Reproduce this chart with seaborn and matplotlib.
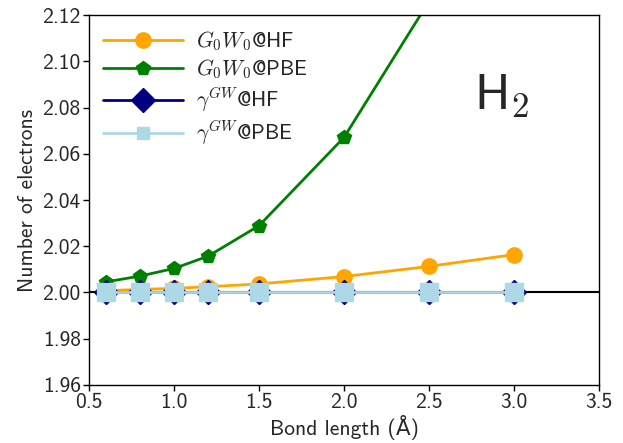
import numpy as np
import pandas as pd
import seaborn as sns
import matplotlib.pyplot as plt

# bond lengths (Angstrom)
bond = [0.6, 0.8, 1.0, 1.2, 1.5, 2.0, 2.5, 3.0]

# number of electrons
g0w0_hf = [2.0008, 2.0013, 2.0018, 2.0025, 2.0037, 2.0069, 2.0113, 2.0164]
g0w0_pbe = [2.0046, 2.0071, 2.0104, 2.0157, 2.0289, 2.0671, 2.1260]
gamma_hf = [2.0, 2.0, 2.0, 2.0, 2.0, 2.0, 2.0, 2.0]
gamma_pbe = [2.0, 2.0, 2.0, 2.0, 2.0, 2.0, 2.0, 2.0]

labels = [r'$G_0W_0$@HF', r'$G_0W_0$@PBE', r'$\gamma^{GW}$@HF', r'$\gamma^{GW}$@PBE']
colors = ['orange', 'green', 'navy', 'lightblue']
markers = ['o', 'p', 'D', 's']
msizes = [11, 10, 12, 13]

x_ticks = [0.5, 1.0, 1.5, 2.0, 2.5, 3.0, 3.5]
y_ticks = [1.96, 1.98, 2.00, 2.02, 2.04, 2.06, 2.08, 2.10, 2.12]

sns.set_style("ticks")
plt.rcParams['font.family'] = ['cmss10', 'DejaVu Sans']
plt.rcParams['mathtext.fontset'] = 'cm'
plt.rcParams['axes.unicode_minus'] = False
plt.rcParams['axes.edgecolor'] = 'black'

fig, ax = plt.subplots(figsize=(6.23, 4.43), dpi=100)
fig.subplots_adjust(left=0.143, right=0.9615, bottom=0.131, top=0.966)

ax.axhline(2.0, color='black', lw=1.5, zorder=1)

series = [g0w0_hf, g0w0_pbe, gamma_hf, gamma_pbe]
for vals, lab, c, m, ms in zip(series, labels, colors, markers, msizes):
    df = pd.DataFrame({'bond': bond[:len(vals)], 'n': vals})
    sns.lineplot(data=df, x='bond', y='n', ax=ax, label=lab, color=c,
                 marker=m, markersize=ms, markeredgecolor=c,
                 markeredgewidth=1, lw=2, zorder=2)

ax.set_xlim(0.5, 3.5)
ax.set_ylim(1.96, 2.12)
ax.set_xticks(x_ticks)
ax.set_yticks(y_ticks)
ax.set_xticklabels([f'{v:.1f}' for v in x_ticks])
ax.set_yticklabels([f'{v:.2f}' for v in y_ticks])
ax.tick_params(labelsize=15.5, length=4, width=1, color='black', pad=2)
for sp in ax.spines.values():
    sp.set_visible(True)
    sp.set_linewidth(1)

ax.set_xlabel('Bond length (Å)', fontsize=15.5, labelpad=2)
ax.set_ylabel('Number of electrons', fontsize=15.5, labelpad=4)

ax.text(0.81, 0.78, r'H$_2$', transform=ax.transAxes, fontsize=36,
        ha='center', va='center')

leg = ax.legend(loc='upper left', frameon=False, fontsize=15.5,
                handlelength=3.7, handletextpad=0.6, labelspacing=0.22,
                borderaxespad=0.25)
leg.legend_handles[3].set_markersize(9)

plt.savefig('out.png', dpi=100)
plt.close()
